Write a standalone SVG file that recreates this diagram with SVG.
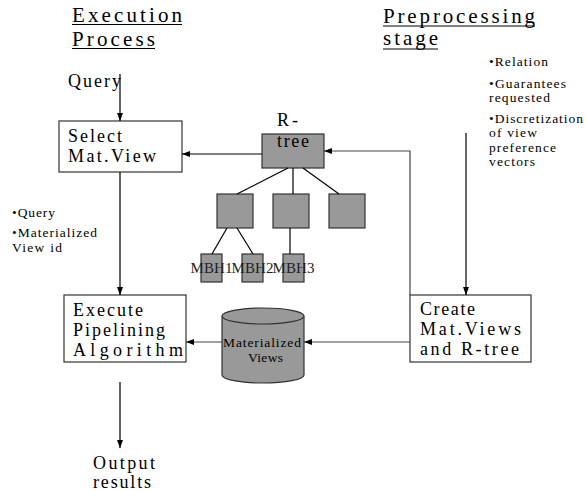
<svg xmlns="http://www.w3.org/2000/svg" width="586" height="491" viewBox="0 0 586 491">
<defs>
<style>
.h{font-size:21px}
.b{font-size:18px}
.q{font-size:18px}
.s{font-size:13.5px}
.m{font-size:15px;fill:#222}
.box{fill:#fff;stroke:#333;stroke-width:1.2}
.g{fill:#999;stroke:#333;stroke-width:1.2}
.c{stroke:#000;stroke-width:1.2;fill:none}
.cg{stroke:#444;stroke-width:1.2;fill:none}
.ul{stroke:#000;stroke-width:1}
</style>
<marker id="a" viewBox="0 0 8 6" refX="8" refY="3" markerWidth="8" markerHeight="6" markerUnits="userSpaceOnUse" orient="auto"><path d="M0,0L8,3L0,6z" fill="#000"/></marker>
</defs>
<rect width="586" height="491" fill="#fff"/>
<g style="font-family:'Liberation Serif',serif" fill="#000">
<g id="title-exec">
<text class="h" x="72" y="22" textLength="110" lengthAdjust="spacing">Execution</text>
<line class="ul" x1="72" y1="24.5" x2="182" y2="24.5"/>
<text class="h" x="72" y="46" textLength="83" lengthAdjust="spacing">Process</text>
<line class="ul" x1="72" y1="48.5" x2="155" y2="48.5"/>
</g>
<g id="title-pre">
<text class="h" x="383" y="23" textLength="152" lengthAdjust="spacing">Preprocessing</text>
<line class="ul" x1="383" y1="26" x2="535" y2="26"/>
<text class="h" x="383" y="45" textLength="55" lengthAdjust="spacing">stage</text>
<line class="ul" x1="383" y1="49" x2="438" y2="49"/>
</g>
<g id="query-label"><text class="q" x="68" y="87" textLength="53" lengthAdjust="spacing">Query</text></g>
<g id="select">
<rect class="box" x="59" y="121" width="123" height="51"/>
<text class="b" x="68" y="142" textLength="54" lengthAdjust="spacing">Select</text>
<text class="b" x="68" y="162" textLength="88" lengthAdjust="spacing">Mat.View</text>
</g>
<g id="rtree">
<text class="q" x="277" y="126" textLength="21" lengthAdjust="spacing">R-</text>
<rect class="g" x="262" y="134" width="62" height="34"/>
<text class="q" x="277" y="147" textLength="32" lengthAdjust="spacing">tree</text>
</g>
<g id="rnode1"><rect class="g" x="217" y="194" width="36" height="34"/></g>
<g id="rnode2"><rect class="g" x="273" y="194" width="36" height="34"/></g>
<g id="rnode3"><rect class="g" x="329" y="194" width="36" height="34"/></g>
<g id="mbh1"><rect class="g" x="201" y="254" width="21" height="28"/><text class="m" x="190.5" y="273" textLength="42" lengthAdjust="spacing">MBH1</text></g>
<g id="mbh2"><rect class="g" x="242" y="254" width="21" height="28"/><text class="m" x="231.5" y="273" textLength="42" lengthAdjust="spacing">MBH2</text></g>
<g id="mbh3"><rect class="g" x="283" y="254" width="21" height="28"/><text class="m" x="272.5" y="273" textLength="42" lengthAdjust="spacing">MBH3</text></g>
<g id="left-notes">
<text class="s" x="12" y="217" textLength="43" lengthAdjust="spacing">•Query</text>
<text class="s" x="12" y="237" textLength="85" lengthAdjust="spacing">•Materialized</text>
<text class="s" x="12" y="252" textLength="50" lengthAdjust="spacing">View id</text>
</g>
<g id="right-notes">
<text class="s" x="489" y="66" textLength="59" lengthAdjust="spacing">•Relation</text>
<text class="s" x="489" y="88" textLength="77" lengthAdjust="spacing">•Guarantees</text>
<text class="s" x="489" y="102" textLength="61" lengthAdjust="spacing">requested</text>
<text class="s" x="489" y="123" textLength="94" lengthAdjust="spacing">•Discretization</text>
<text class="s" x="489" y="137" textLength="48" lengthAdjust="spacing">of view</text>
<text class="s" x="489" y="152" textLength="67" lengthAdjust="spacing">preference</text>
<text class="s" x="489" y="166" textLength="46" lengthAdjust="spacing">vectors</text>
</g>
<g id="execute">
<rect class="box" x="64" y="295" width="122" height="67"/>
<text class="b" x="73" y="316" textLength="70" lengthAdjust="spacing">Execute</text>
<text class="b" x="73" y="336" textLength="92" lengthAdjust="spacing">Pipelining</text>
<text class="b" x="73" y="356" textLength="110" lengthAdjust="spacing">Algorithm</text>
</g>
<g id="matviews">
<path class="g" d="M222,316 L222,375 A41,8 0 0 0 304,375 L304,316"/>
<ellipse class="g" cx="263" cy="316" rx="41" ry="8"/>
<text class="s" x="223" y="347" textLength="78" lengthAdjust="spacing">Materialized</text>
<text class="s" x="248" y="362" textLength="35" lengthAdjust="spacing">Views</text>
</g>
<g id="create">
<rect class="box" x="410" y="295" width="121" height="67"/>
<text class="b" x="420" y="315" textLength="55" lengthAdjust="spacing">Create</text>
<text class="b" x="420" y="335" textLength="101" lengthAdjust="spacing">Mat.Views</text>
<text class="b" x="420" y="355" textLength="99" lengthAdjust="spacing">and R-tree</text>
</g>
<g id="output"><text class="q" x="93" y="469" textLength="62" lengthAdjust="spacing">Output</text><text class="q" x="93" y="488" textLength="58" lengthAdjust="spacing">results</text></g>
</g>
<g id="connectors">
<line class="c" x1="120" y1="74" x2="120" y2="121" marker-end="url(#a)"/>
<line class="c" x1="120" y1="172" x2="120" y2="295" marker-end="url(#a)"/>
<line class="c" x1="120" y1="382" x2="120" y2="448" marker-end="url(#a)"/>
<line class="c" x1="262" y1="154" x2="182" y2="154" marker-end="url(#a)"/>
<polyline class="cg" points="410,295 410,151 324,151" marker-end="url(#a)"/>
<line class="c" x1="466" y1="133" x2="466" y2="295" marker-end="url(#a)"/>
<line class="cg" x1="410" y1="342" x2="304" y2="342" marker-end="url(#a)"/>
<line class="cg" x1="222" y1="342" x2="186" y2="342" marker-end="url(#a)"/>
<line class="c" x1="288" y1="168" x2="237" y2="194"/>
<line class="c" x1="293" y1="168" x2="293" y2="194"/>
<line class="c" x1="303" y1="168" x2="339" y2="194"/>
<line class="c" x1="227" y1="228" x2="212" y2="254"/>
<line class="c" x1="237" y1="228" x2="253" y2="254"/>
<line class="c" x1="290" y1="228" x2="290" y2="254"/>
</g>
</svg>
